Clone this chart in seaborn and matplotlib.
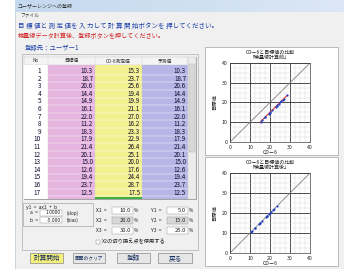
"""
ユーザーレンジへの登録 画面の再現 (seaborn / matplotlib)
出力: out.png (344x269 px)
"""
import numpy as np
import pandas as pd
import matplotlib
matplotlib.use("Agg")
import matplotlib.pyplot as plt
import seaborn as sns
from matplotlib.patches import Rectangle

# ─────────────────────────────────────────────
# DATI
# ─────────────────────────────────────────────
row_no = list(range(1, 18))
target = [10.3, 18.7, 20.6, 14.4, 14.9, 16.1, 22.0, 11.2, 18.3,
          17.9, 21.4, 20.1, 15.0, 12.6, 19.4, 23.7, 12.5]
cd6 = [15.3, 23.7, 25.6, 19.4, 19.9, 21.1, 27.0, 16.2, 23.3,
       22.9, 26.4, 25.1, 20.0, 17.6, 24.4, 28.7, 17.5]
pred = [10.3, 18.7, 20.6, 14.4, 14.9, 16.1, 22.0, 11.2, 18.3,
        17.9, 21.4, 20.1, 15.0, 12.6, 19.4, 23.7, 12.5]
col_headers = ["No", "目標値", "CD-6測定値", "予測値"]
x_fields = [10.0, 20.0, 30.0]
y_fields = [5.0, 15.0, 25.0]
slope, bias = 1.0, -5.0
axis_ticks = [0, 10, 20, 30, 40]
buttons = ["計算開始", "画面のクリア", "登録", "戻る"]

W, H = 344, 269
JP = ["Noto Sans CJK JP", "DejaVu Sans"]

sns.set_style("white")
plt.rcParams["font.family"] = JP

fig = plt.figure(figsize=(W / 100, H / 100), dpi=100)
ui = fig.add_axes([0, 0, 1, 1])
ui.set_xlim(0, W)
ui.set_ylim(H, 0)
ui.axis("off")


def box(x0, y0, x1, y1, fc="white", ec="#a0a0a0", lw=0.5, z=1):
    ui.add_patch(Rectangle((x0, y0), x1 - x0, y1 - y0, fc=fc, ec=ec, lw=lw, zorder=z))


def txt(x, y, s, size=4.5, color="#202020", ha="left", z=5, **kw):
    ui.text(x, y, s, fontsize=size, color=color, ha=ha, va="center", zorder=z, **kw)


# ─────────────────────────────────────────────
# FINESTRA
# ─────────────────────────────────────────────
box(15, 0, W, H, fc="#f0f0f0", ec="#b8c4d0", lw=0.5, z=0)
grad = np.linspace(0, 1, 100).reshape(1, -1)
ui.imshow(grad, extent=(15, W, 12, 0), cmap=matplotlib.colors.LinearSegmentedColormap.from_list(
    "tb", ["#c4d8ee", "#dbe7f4"]), aspect="auto", zorder=1)
txt(18, 6.5, "ユーザーレンジへの登録", size=3.6, color="#303030")
txt(20, 15.5, "ファイル", size=3.4, color="#303030")
txt(18, 25.5, "目 標 値と 測 定 値を 入 力して 計 算 開 始ボタンを 押してください。",
    size=4.7, color="#1a3fa8")
txt(18, 36, "検量線データ計算後、登録ボタンを押してください。", size=4.4, color="#d02020")
txt(25, 48, "登録先：ユーザー1", size=4.6, color="#1a3fa8")

# pannello sinistro
box(22, 54, 198, 250, fc="#f0f0f0", ec="#b0b0b0")

# ─────────────────────────────────────────────
# TABELLA
# ─────────────────────────────────────────────
tx0, tx1, ty0, ty1 = 24, 196, 57, 199
box(tx0, ty0, tx1, ty1, fc="white", ec="#808080", lw=0.5)
box(tx0, ty0, 188, 65, fc="#f4f4f4", ec="#c0c0c0", lw=0.3, z=2)
col_x = [(24, 48), (48, 95), (95, 142), (142, 188)]
col_fc = ["white", "#e5b5df", "#f3f090", "#b6b6e6"]
for (a, b), fc in zip(col_x, col_fc):
    box(a, 65, b, ty1, fc=fc, ec="none", z=2)
for (a, b), h in zip(col_x, col_headers):
    txt((a + b) / 2, 61, h, size=3.4, color="#303030", ha="center")
    ui.plot([b, b], [57, ty1], color="#d0d0d0", lw=0.3, zorder=3)
# riga 18 parzialmente visibile (cella selezionata)
box(95, 196.5, 142, ty1, fc="#3cb043", ec="none", z=3)

row_h = 7.6
for i, (n, t, c, p) in enumerate(zip(row_no, target, cd6, pred)):
    y = 71 + i * row_h
    ui.plot([24, 188], [y + row_h / 2, y + row_h / 2], color="white", lw=0.3, zorder=3)
    txt(41, y, str(n), size=4.6, ha="right", color="#101030")
    txt(93, y, f"{t:.1f}", size=4.5, ha="right", color="#101030")
    txt(140, y, f"{c:.1f}", size=4.5, ha="right", color="#101030")
    txt(186, y, f"{p:.1f}", size=4.5, ha="right", color="#101030")

# barra di scorrimento
box(188, 57, 196, ty1, fc="#ececec", ec="#c8c8c8", lw=0.3, z=3)
box(189, 64, 195, 152, fc="#d8d8d8", ec="#b0b0b0", lw=0.3, z=4)

# ─────────────────────────────────────────────
# PARAMETRI
# ─────────────────────────────────────────────
box(23, 203, 93, 226, fc="#f0f0f0", ec="#a8a8a8")
txt(26, 207, "y1  =  ax1  +  b", size=3.6)
txt(30, 213, "a  =", size=3.6)
box(40, 210, 62, 216, ec="#909090", lw=0.3, z=2)
txt(61, 213, f"{slope:.4f}", size=3.5, ha="right")
txt(67, 213, "(slop)", size=3.4)
txt(30, 220, "b  =", size=3.6)
box(40, 217, 62, 223, ec="#909090", lw=0.3, z=2)
txt(61, 220, f"{bias:.3f}", size=3.5, ha="right")
txt(67, 220, "(bias)", size=3.4)

for k, (xv, yv) in enumerate(zip(x_fields, y_fields)):
    y = 210 + k * 10
    fc = "#d8d8d8" if k == 1 else "white"
    txt(96, y, f"X{k + 1}  =", size=3.6)
    box(112, y - 3.5, 133, y + 3.5, fc=fc, ec="#909090", lw=0.3, z=2)
    txt(131, y, f"{xv:.1f}", size=4.2, ha="right")
    txt(133.5, y, "%", size=3.4)
    txt(151, y, f"Y{k + 1}  =", size=3.6)
    box(167, y - 3.5, 188, y + 3.5, fc=fc, ec="#909090", lw=0.3, z=2)
    txt(186, y, f"{yv:.1f}", size=4.2, ha="right")
    txt(188.5, y, "%", size=3.4)

box(96, 240, 100, 244, ec="#808080", lw=0.3, z=2)
txt(102, 242, "X2の切り換え点を使用する", size=3.8)

# pulsanti
btn_x = [(30, 63), (73, 105), (117, 150), (158, 192)]
for (a, b), lab in zip(btn_x, buttons):
    fc = "#f4f07a" if lab == "計算開始" else "#e6e6e6"
    box(a, 253, b, 263, fc=fc, ec="#8a8a8a", lw=0.5, z=2)
    sz = 3.4 if lab == "画面のクリア" else 4.8
    txt((a + b) / 2, 258, lab, size=sz, ha="center", color="#1a3060")

# ─────────────────────────────────────────────
# GRAFICI
# ─────────────────────────────────────────────
def px_axes(x0, y0, x1, y1):
    return fig.add_axes([x0 / W, 1 - y1 / H, (x1 - x0) / W, (y1 - y0) / H])


def draw_chart(panel, axbox, subtitle, xs, ys, fit_line):
    box(*panel, fc="white", ec="#a0a0a0", lw=0.5)
    px0, py0, px1, py1 = panel
    cx = (axbox[0] + axbox[2]) / 2
    txt(cx, py0 + 5.5, "CD－6と目標値の比較", size=3.6, ha="center", color="#202020")
    txt(cx, py0 + 10.5, subtitle, size=3.6, ha="center", color="#202020")
    ax = px_axes(*axbox)
    ax.set_xlim(0, 40)
    ax.set_ylim(0, 40)
    ax.set_xticks(axis_ticks)
    ax.set_yticks(axis_ticks)
    ax.set_xticks(np.arange(0, 40.1, 2.5), minor=True)
    ax.set_yticks(np.arange(0, 40.1, 2.5), minor=True)
    ax.grid(which="minor", color="#d4d4d4", lw=0.3)
    ax.grid(which="major", color="#303030", lw=0.6)
    ax.tick_params(which="both", length=0, labelsize=3.8, pad=2, colors="#202020")
    for s in ax.spines.values():
        s.set_color("#404040")
        s.set_linewidth(0.5)
    ax.plot([0, 40], [0, 40], color="#808080", lw=0.6, zorder=2)
    df = pd.DataFrame({"x": xs, "y": ys}).sort_values("x")
    if fit_line:
        sns.lineplot(data=df, x="x", y="y", color="#e03030", lw=0.8, ax=ax,
                     sort=True, zorder=3)
    sns.scatterplot(data=df, x="x", y="y", color="#2040c0", s=2.5, lw=0,
                    ax=ax, zorder=4)
    ax.set_xlabel("CD－6", fontsize=3.8, labelpad=0.5)
    ax.set_ylabel("目標値", fontsize=3.8, labelpad=3)
    return ax


draw_chart((205, 47, 338, 155), (230, 63, 310, 142), "「検量線計算前」", cd6, target, True)
draw_chart((205, 157, 338, 266), (230, 173, 310, 253), "「検量線計算後」", pred, target, False)

fig.savefig("out.png", dpi=100)
plt.close(fig)
